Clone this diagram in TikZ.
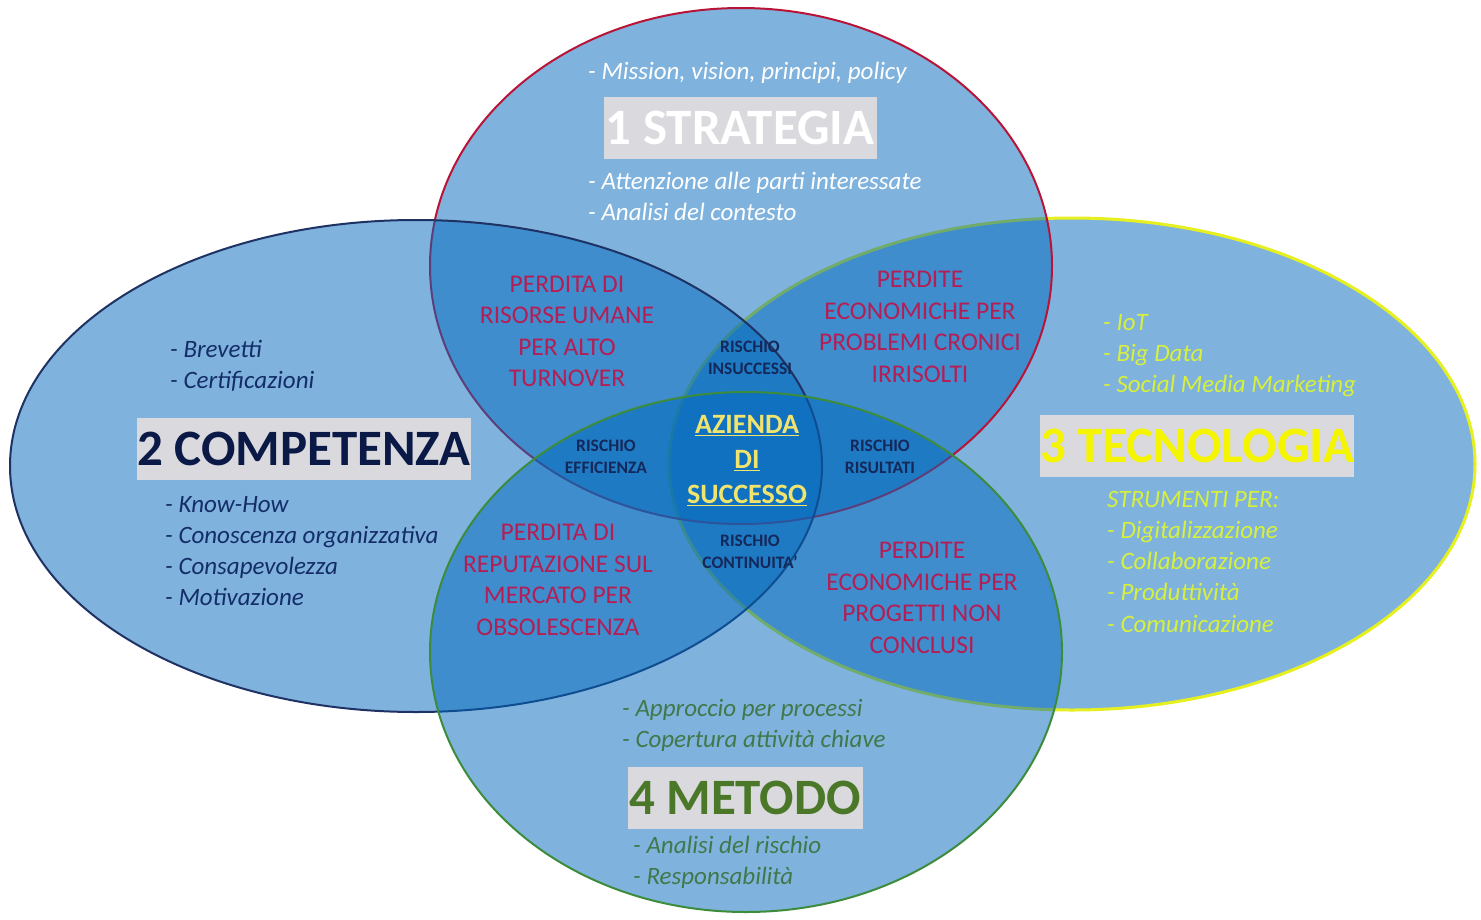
\documentclass[tikz,border=0pt]{standalone}
\usepackage{fontspec}
\setmainfont{Carlito}
\definecolor{vbase}{RGB}{0,105,189}
\definecolor{cstrat}{RGB}{185,20,55}
\definecolor{ccomp}{RGB}{30,50,100}
\definecolor{ctecn}{RGB}{230,240,30}
\definecolor{cmeto}{RGB}{60,140,60}
\definecolor{tcomp}{RGB}{20,45,105}
\definecolor{ttecn}{RGB}{215,240,60}
\definecolor{tmeto}{RGB}{65,120,75}
\definecolor{tred}{RGB}{180,30,85}
\definecolor{trisk}{RGB}{20,40,90}
\definecolor{tcenter}{RGB}{240,228,110}
\definecolor{boxgray}{RGB}{218,218,222}
\definecolor{mtitle}{RGB}{75,120,40}
\definecolor{ctitle}{RGB}{10,25,70}
\definecolor{ytitle}{RGB}{245,245,0}
\begin{document}
\begin{tikzpicture}[x=1pt,y=-1pt,
  venn/.style={fill=vbase, fill opacity=0.5},
  rim/.style={line width=2pt},
  title/.style={fill=boxgray, inner xsep=0pt, inner ysep=0pt, minimum height=62pt,
    font=\fontsize{51}{60}\selectfont\bfseries},
  item/.style={anchor=base west, inner sep=0pt, font=\fontsize{25}{31}\selectfont\itshape},
  loss/.style={align=center, text=tred, inner sep=0pt, font=\fontsize{25.5}{31.5}\selectfont},
  risk/.style={align=center, text=trisk, inner sep=0pt, font=\fontsize{17.5}{22}\selectfont\bfseries},
  core/.style={align=center, text=tcenter, inner sep=0pt, font=\fontsize{28}{35}\selectfont\bfseries}]
\useasboundingbox (0,0) rectangle (1481,919);
\fill[white] (0,0) rectangle (1481,919);
% tecnologia
\path[venn] (1072,464) ellipse [x radius=403pt, y radius=246pt];
\draw[rim, ctecn, line width=3pt] (1072,464) ellipse [x radius=403pt, y radius=246pt];
% strategia
\path[venn] (741,266) ellipse [x radius=311pt, y radius=258pt];
\draw[rim, cstrat] (741,266) ellipse [x radius=311pt, y radius=258pt];
% competenza
\path[venn] (416,466) ellipse [x radius=406pt, y radius=246pt];
\draw[rim, ccomp] (416,466) ellipse [x radius=406pt, y radius=246pt];
% metodo
\path[venn] (746,652) ellipse [x radius=316pt, y radius=260pt];
\draw[rim, cmeto] (746,652) ellipse [x radius=316pt, y radius=260pt];
% titles
\node[title, text=white, minimum width=273pt] (tstrat) at (740,128) {1 STRATEGIA};
\node[title, text=ctitle, minimum width=334pt] (tcomp) at (304,449) {2 COMPETENZA};
\node[title, text=ytitle, minimum width=312pt] (ttecn) at (1197,446) {3 TECNOLOGIA};
\node[title, text=mtitle, minimum width=235pt] (tmeto) at (745,798) {4 METODO};
% strategia list
\node[item, text=white] (s1) at (588,79) {- Mission, vision, principi, policy};
\node[item, text=white] (s2) at (588,189) {- Attenzione alle parti interessate};
\node[item, text=white] (s3) at (588,220) {- Analisi del contesto};
% competenza list
\node[item, text=tcomp] (c1) at (170,357) {- Brevetti};
\node[item, text=tcomp] (c2) at (170,388) {- Certificazioni};
\node[item, text=tcomp] (c3) at (165,512) {- Know-How};
\node[item, text=tcomp] (c4) at (165,543) {- Conoscenza organizzativa};
\node[item, text=tcomp] (c5) at (165,574) {- Consapevolezza};
\node[item, text=tcomp] (c6) at (165,605) {- Motivazione};
% tecnologia list
\node[item, text=ttecn] (e1) at (1103,330) {- IoT};
\node[item, text=ttecn] (e2) at (1103,361) {- Big Data};
\node[item, text=ttecn] (e3) at (1103,392) {- Social Media Marketing};
\node[item, text=ttecn] (e4) at (1107,507) {STRUMENTI PER:};
\node[item, text=ttecn] (e5) at (1107,538) {- Digitalizzazione};
\node[item, text=ttecn] (e6) at (1107,569) {- Collaborazione};
\node[item, text=ttecn] (e7) at (1107,600) {- Produttività};
\node[item, text=ttecn] (e8) at (1107,632) {- Comunicazione};
% metodo list
\node[item, text=tmeto] (m1) at (622,716) {- Approccio per processi};
\node[item, text=tmeto] (m2) at (622,747) {- Copertura attività chiave};
\node[item, text=tmeto] (m3) at (633,853) {- Analisi del rischio};
\node[item, text=tmeto] (m4) at (633,884) {- Responsabilità};
% losses
\node[loss] (l1) at (567,331.5) {PERDITA DI\\RISORSE UMANE\\PER ALTO\\TURNOVER};
\node[loss] (l2) at (920,327) {PERDITE\\ECONOMICHE PER\\PROBLEMI CRONICI\\IRRISOLTI};
\node[loss] (l3) at (558,580) {PERDITA DI\\REPUTAZIONE SUL\\MERCATO PER\\OBSOLESCENZA};
\node[loss] (l4) at (922,598) {PERDITE\\ECONOMICHE PER\\PROGETTI NON\\CONCLUSI};
% risks
\node[risk] (r1) at (750,358) {RISCHIO\\INSUCCESSI};
\node[risk] (r2) at (606,457) {RISCHIO\\EFFICIENZA};
\node[risk] (r3) at (880,457) {RISCHIO\\RISULTATI};
\node[risk] (r4) at (750,552) {RISCHIO\\CONTINUITA'};
% core
\node[core] (core) at (747,461) {\underline{AZIENDA}\\\underline{DI}\\\underline{SUCCESSO}};
\end{tikzpicture}
\end{document}
